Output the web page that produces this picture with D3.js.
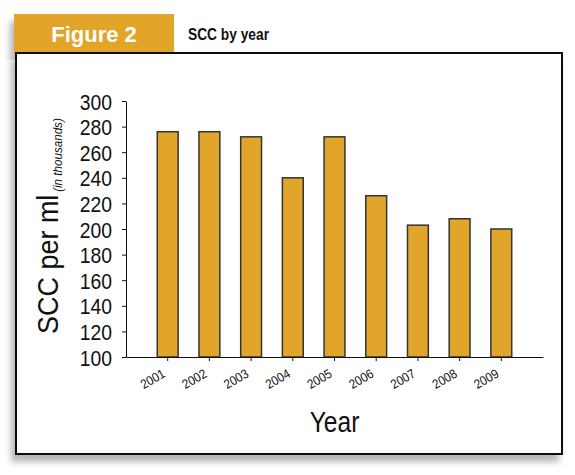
<!DOCTYPE html>
<html>
<head>
<meta charset="utf-8">
<script src="https://cdn.jsdelivr.net/npm/d3@7"></script>
<style>
  body { margin: 0; background: #fff; }
  svg { display: block; font-family: "Liberation Sans", Arial, sans-serif; }
</style>
</head>
<body>
<div id="chart"></div>
<script>
const years = ["2001", "2002", "2003", "2004", "2005", "2006", "2007", "2008", "2009"];
const scc = [276, 276, 272, 240, 272, 226, 203, 208, 200];
const yTicks = [100, 120, 140, 160, 180, 200, 220, 240, 260, 280, 300];

const width = 575, height = 475;
const margin = { top: 101, right: 32, bottom: 118, left: 126 };
const orange = "#e2a52b";
const narrow = 0.86; // squeeze factor to fake the condensed face

const svg = d3.select("#chart")
  .append("svg")
  .attr("width", width)
  .attr("height", height);

// soft grey shadow, offset to the lower left
const defs = svg.append("defs");
const shadow = defs.append("filter")
  .attr("id", "shadow")
  .attr("x", "-10%").attr("y", "-10%")
  .attr("width", "120%").attr("height", "125%");
shadow.append("feDropShadow")
  .attr("dx", -4).attr("dy", 7)
  .attr("stdDeviation", 3)
  .attr("flood-color", "#999")
  .attr("flood-opacity", 0.7);

// header tab
svg.append("rect")
  .attr("x", 14).attr("y", 14)
  .attr("width", 160).attr("height", 40)
  .attr("fill", orange)
  .attr("filter", "url(#shadow)");

// frame
svg.append("rect")
  .attr("x", 16).attr("y", 53)
  .attr("width", 546).attr("height", 401)
  .attr("fill", "#fff")
  .attr("stroke", "#111")
  .attr("stroke-width", 2)
  .attr("filter", "url(#shadow)");

svg.append("text")
  .attr("x", 94).attr("y", 42)
  .attr("text-anchor", "middle")
  .attr("fill", "#fff")
  .style("font-weight", "bold")
  .style("font-size", "22px")
  .text("Figure 2");

svg.append("text")
  .attr("transform", `translate(188, 40) scale(${narrow}, 1)`)
  .attr("fill", "#111")
  .style("font-weight", "bold")
  .style("font-size", "16px")
  .text("SCC by year");

const chartWidth = width - margin.left - margin.right;
const chartHeight = height - margin.top - margin.bottom;

const g = svg.append("g")
  .attr("transform", `translate(${margin.left}, ${margin.top})`);

const xScale = d3.scaleBand()
  .domain(years)
  .range([0, chartWidth])
  .paddingInner(0.5)
  .paddingOuter(0.75);

const yScale = d3.scaleLinear()
  .domain([100, 300])
  .range([chartHeight, 0]);

g.selectAll("rect.bar")
  .data(years)
  .enter()
  .append("rect")
  .attr("class", "bar")
  .attr("x", d => xScale(d))
  .attr("y", (d, i) => yScale(scc[i]))
  .attr("width", xScale.bandwidth())
  .attr("height", (d, i) => chartHeight - yScale(scc[i]))
  .attr("fill", orange)
  .attr("stroke", "#333")
  .attr("stroke-width", 1.5);

const yAxis = d3.axisLeft(yScale)
  .tickValues(yTicks)
  .tickSizeInner(4)
  .tickSizeOuter(0)
  .tickPadding(10);

const yG = g.append("g").call(yAxis);
yG.selectAll("text")
  .style("font-size", "22.5px")
  .attr("fill", "#111")
  .attr("x", -14 / narrow)
  .attr("dy", "0.36em")
  .attr("transform", `scale(${narrow}, 1)`);

const xAxis = d3.axisBottom(xScale)
  .tickSizeInner(4)
  .tickSizeOuter(0);

const xG = g.append("g")
  .attr("transform", `translate(0, ${chartHeight})`)
  .call(xAxis);
xG.selectAll("text")
  .style("font-size", "13px")
  .attr("fill", "#111")
  .attr("text-anchor", "end")
  .attr("x", -11 / 0.9)
  .attr("y", 16)
  .attr("dy", 0)
  .attr("transform", "rotate(-30) scale(0.9, 1)");

g.selectAll(".domain").attr("stroke", "#111");
g.selectAll(".tick line").attr("stroke", "#111");

// axis titles
g.append("text")
  .attr("transform", `translate(${chartWidth / 2}, ${chartHeight + 75}) scale(0.82, 1)`)
  .attr("text-anchor", "middle")
  .attr("fill", "#111")
  .style("font-size", "30px")
  .text("Year");

const yTitle = svg.append("text")
  .attr("transform", "translate(58, 334) rotate(-90) scale(0.93, 1)")
  .attr("fill", "#111");
yTitle.append("tspan")
  .style("font-size", "29px")
  .text("SCC per ml");
yTitle.append("tspan")
  .attr("dx", 3)
  .attr("dy", 4)
  .style("font-size", "12.5px")
  .style("font-style", "italic")
  .text("(in thousands)");
</script>
</body>
</html>
